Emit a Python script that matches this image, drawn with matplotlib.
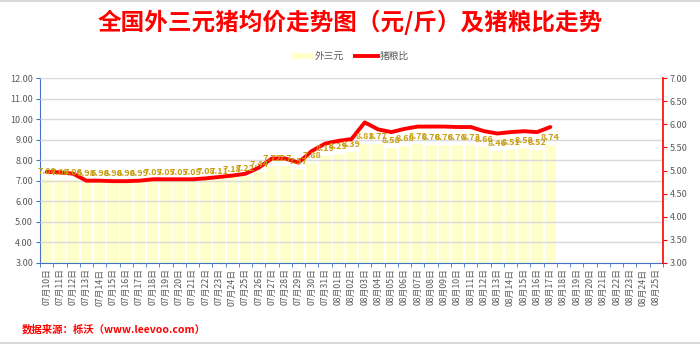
import matplotlib
matplotlib.use("Agg")
import matplotlib.pyplot as plt
from matplotlib.patches import Rectangle
from matplotlib.lines import Line2D
import matplotlib.transforms as mtransforms
import numpy as np

plt.rcParams['font.family'] = ['Noto Sans CJK SC', 'DejaVu Sans']

dates = [f"07月{d:02d}日" for d in range(10, 32)] + [f"08月{d:02d}日" for d in range(1, 26)]
price = [7.08, 7.06, 7.06, 6.98, 6.98, 6.98, 6.98, 6.99, 7.05, 7.05, 7.05, 7.05, 7.08, 7.11,
         7.18, 7.22, 7.44, 7.72, 7.7, 7.57, 7.88, 8.19,
         8.29, 8.39, 8.81, 8.77, 8.58, 8.68, 8.78, 8.76, 8.76, 8.76, 8.73, 8.66, 8.46, 8.51,
         8.58, 8.52, 8.74]
price_labels = ["7.08", "7.06", "7.06", "6.98", "6.98", "6.98", "6.98", "6.99", "7.05", "7.05",
                "7.05", "7.05", "7.08", "7.11", "7.18", "7.22", "7.44", "7.72", "7.7", "7.57",
                "7.88", "8.19", "8.29", "8.39", "8.81", "8.77", "8.58", "8.68", "8.78", "8.76",
                "8.76", "8.76", "8.73", "8.66", "8.46", "8.51", "8.58", "8.52", "8.74"]
ratio = [4.97, 4.96, 4.93, 4.78, 4.78, 4.77, 4.77, 4.78, 4.81, 4.81, 4.81, 4.81, 4.83, 4.86,
         4.89, 4.93, 5.06, 5.26, 5.26, 5.17, 5.42, 5.58,
         5.64, 5.68, 6.04, 5.89, 5.83, 5.90, 5.95, 5.95, 5.95, 5.94, 5.94, 5.85, 5.80, 5.83,
         5.85, 5.83, 5.94]
left_ticks = [3, 4, 5, 6, 7, 8, 9, 10, 11, 12]
right_ticks = [3.0, 3.5, 4.0, 4.5, 5.0, 5.5, 6.0, 6.5, 7.0]

W, H = 700, 344
fig = plt.figure(figsize=(W / 100, H / 100), dpi=100)
ax = fig.add_axes([40 / W, 1 - 263 / H, (663 - 40) / W, (263 - 78) / H])
ax2 = ax.twinx()

n = len(dates)
x = np.arange(n)
xb = np.arange(len(price))
ax.bar(xb, price, width=0.86, color='#FFFFCC', zorder=1)
ax.set_ylim(3, 12)
ax.set_xlim(-0.5, n - 0.5)
ax.set_yticks(left_ticks)
ax.set_yticklabels([f"{v:.2f}" for v in left_ticks], fontsize=6.5, color='#595959')
ax.yaxis.grid(True, color='#D9D9D9', lw=1, zorder=2)
ax.set_axisbelow(False)
ax.set_xticks(x)
ax.set_xticklabels(dates, rotation=90, fontsize=6.3, color='#595959')
ax.set_xticks(np.arange(-0.5, n, 1), minor=True)
ax.tick_params(axis='x', which='major', length=0, pad=4)
ax.tick_params(axis='x', which='minor', length=3, color='#4472C4', direction='out')
ax.tick_params(axis='y', length=3, color='#4472C4', pad=2)
ax.spines['top'].set_visible(False)
ax2.spines['top'].set_visible(False)
ax.spines['left'].set_color('#4472C4')
ax.spines['bottom'].set_color('#4472C4')
ax.spines['right'].set_visible(False)
ax2.spines['left'].set_visible(False)
ax2.spines['bottom'].set_visible(False)
ax2.spines['right'].set_color('#FF0000')
ax2.spines['right'].set_linewidth(1.2)

ax2.plot(xb, ratio, color='#FF0000', lw=2.8, solid_joinstyle='round', solid_capstyle='round', zorder=3)
ax2.set_ylim(3, 7)
ax2.set_yticks(right_ticks)
ax2.set_yticklabels([f"{v:.2f}" for v in right_ticks], fontsize=6.5, color='#595959')
ax2.tick_params(axis='y', length=3, color='#FF0000', pad=2)
ax2.set_xlim(-0.5, n - 0.5)

lbl_tr = ax.transData + mtransforms.ScaledTranslation(0, 3 / 100, fig.dpi_scale_trans)
for xi, v, s in zip(xb, price, price_labels):
    ax2.text(xi, v, s, transform=lbl_tr, ha='center', va='bottom',
             fontsize=6.5, fontweight='bold', color='#C9A012', zorder=5)

fig.text(0.5, 1 - 22 / H, "全国外三元猪均价走势图（元/斤）及猪粮比走势", ha='center', va='center',
         fontsize=17, fontweight='bold', color='#FF0000')

# legend
ly = 1 - 56 / H
fig.patches.append(Rectangle((292 / W, ly - 2.5 / H), 21 / W, 5 / H, transform=fig.transFigure,
                             facecolor='#FFFFCC', edgecolor='none'))
fig.text(315 / W, ly, "外三元", ha='left', va='center', fontsize=7, color='#595959')
fig.lines.append(Line2D([355 / W, 378 / W], [ly, ly], transform=fig.transFigure, color='#FF0000', lw=2.8))
fig.text(380 / W, ly, "猪粮比", ha='left', va='center', fontsize=7, color='#595959')

fig.text(22 / W, 1 - 329 / H, "数据来源：栎沃（www.leevoo.com）", ha='left', va='center',
         fontsize=7.5, fontweight='bold', color='#FF0000')

fig.lines.append(Line2D([0, 1], [1 - 0.5 / H, 1 - 0.5 / H], transform=fig.transFigure, color='#D9D9D9', lw=1.5))
fig.lines.append(Line2D([0, 1], [1.5 / H, 1.5 / H], transform=fig.transFigure, color='#D9D9D9', lw=1.5))

fig.savefig("out.png", dpi=100)
